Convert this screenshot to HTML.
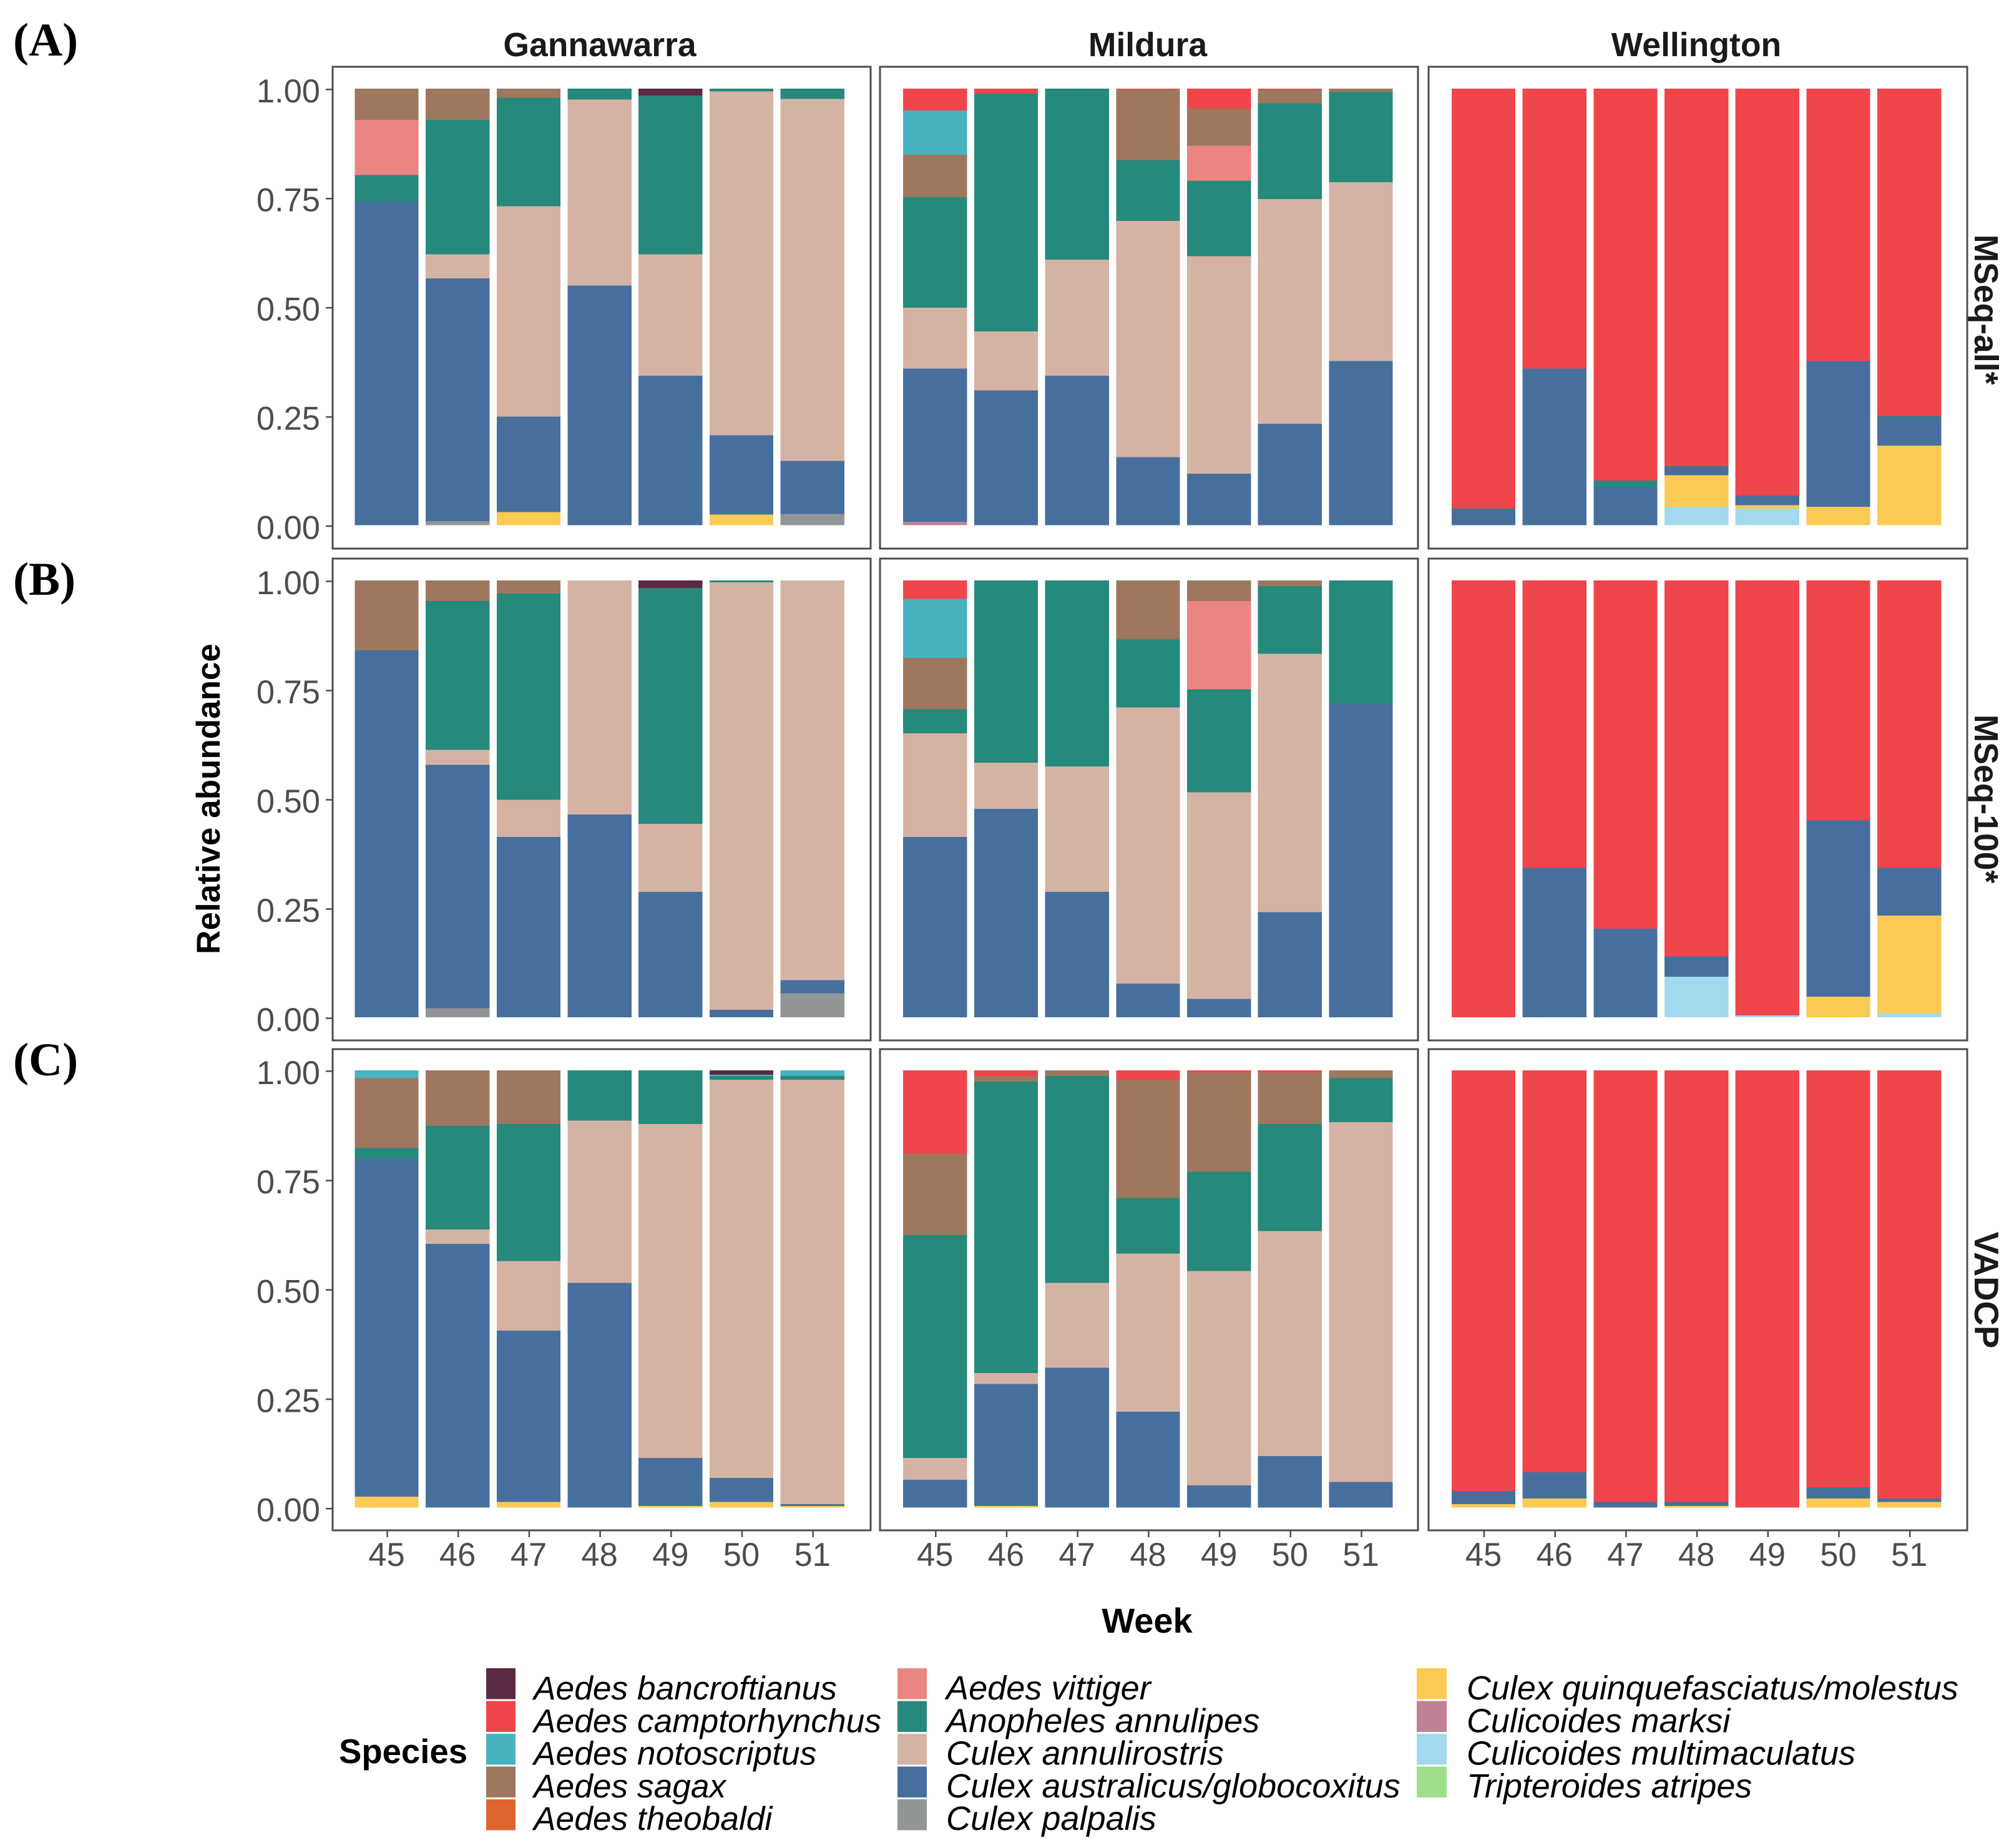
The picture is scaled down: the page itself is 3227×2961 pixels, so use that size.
<!DOCTYPE html>
<html lang="en">
<head>
<meta charset="utf-8">
<title>Relative abundance of species by week</title>
<style>
html,body{margin:0;padding:0;background:#fff;}
svg{display:block;}
text{font-family:"Liberation Sans",sans-serif;}
.strip{font-weight:bold;font-size:53.5px;fill:#1a1a1a;text-anchor:middle;}
.axis-title{font-weight:bold;font-size:53px;fill:#000;text-anchor:middle;}
.panel-tag{font-family:"Liberation Serif",serif;font-weight:bold;font-size:75px;fill:#000;}
.tick-label{font-size:52.5px;fill:#4d4d4d;}
.legend-label{font-style:italic;fill:#000;}
</style>
</head>
<body>
<svg id="chart" xmlns="http://www.w3.org/2000/svg" width="3227" height="2961" viewBox="0 0 3227 2961">
  <rect width="3227" height="2961" fill="#ffffff"/>
  <text class="panel-tag" x="21" y="89">(A)</text>
  <text class="panel-tag" x="21" y="953">(B)</text>
  <text class="panel-tag" x="21" y="1723">(C)</text>
  <text class="strip" x="961" y="90">Gannawarra</text>
  <text class="strip" x="1839" y="90">Mildura</text>
  <text class="strip" x="2718" y="90">Wellington</text>
  <text class="strip" transform="translate(3164 496) rotate(90)">MSeq-all*</text>
  <text class="strip" transform="translate(3164 1280) rotate(90)">MSeq-100*</text>
  <text class="strip" transform="translate(3164 2067) rotate(90)" style="font-size:54.5px">VADCP</text>
  <text class="axis-title" transform="translate(352 1280) rotate(-90)">Relative abundance</text>
  <text class="axis-title" x="1838" y="2616" style="font-size:56px">Week</text>
  <text class="axis-title" x="646" y="2825" style="font-size:54.5px">Species</text>
  <g id="panels"></g>
  <g id="legend"></g>
</svg>
<script>
const weeks = [45, 46, 47, 48, 49, 50, 51];
const yTicks = [0, 0.25, 0.5, 0.75, 1];
const yTickLabels = ['0.00', '0.25', '0.50', '0.75', '1.00'];
const speciesKeys = ['bancroftianus', 'camptorhynchus', 'notoscriptus', 'sagax', 'theobaldi', 'vittiger', 'annulipes', 'annulirostris', 'australicus', 'palpalis', 'quinquefasciatus', 'marksi', 'multimaculatus', 'atripes'];
const speciesNames = ['Aedes bancroftianus', 'Aedes camptorhynchus', 'Aedes notoscriptus', 'Aedes sagax', 'Aedes theobaldi', 'Aedes vittiger', 'Anopheles annulipes', 'Culex annulirostris', 'Culex australicus/globocoxitus', 'Culex palpalis', 'Culex quinquefasciatus/molestus', 'Culicoides marksi', 'Culicoides multimaculatus', 'Tripteroides atripes'];
const speciesColors = ['#5c2a42', '#ef454b', '#48b2be', '#9d775e', '#de6530', '#ea8581', '#25897b', '#d5b3a4', '#476f9e', '#929595', '#fbca54', '#bf8193', '#a2d9ee', '#9ee08a'];

const mseqAllGannawarra = {
  bancroftianus: [0, 0, 0, 0, 0.016, 0, 0],
  sagax: [0.072, 0.072, 0.021, 0, 0, 0, 0],
  vittiger: [0.126, 0, 0, 0, 0, 0, 0],
  annulipes: [0.060, 0.308, 0.249, 0.025, 0.364, 0.007, 0.024],
  annulirostris: [0, 0.055, 0.481, 0.426, 0.278, 0.787, 0.829],
  australicus: [0.742, 0.556, 0.219, 0.549, 0.342, 0.182, 0.121],
  palpalis: [0, 0.009, 0, 0, 0, 0, 0.026],
  quinquefasciatus: [0, 0, 0.030, 0, 0, 0.024, 0]
};
const mseqAllMildura = {
  camptorhynchus: [0.050, 0.012, 0, 0.002, 0.046, 0.002, 0],
  notoscriptus: [0.102, 0, 0, 0, 0, 0, 0],
  sagax: [0.097, 0, 0, 0.162, 0.085, 0.032, 0.008],
  vittiger: [0, 0, 0, 0, 0.080, 0, 0],
  annulipes: [0.253, 0.544, 0.392, 0.139, 0.173, 0.219, 0.207],
  annulirostris: [0.139, 0.135, 0.266, 0.541, 0.498, 0.515, 0.409],
  australicus: [0.351, 0.309, 0.342, 0.156, 0.118, 0.232, 0.376],
  marksi: [0.008, 0, 0, 0, 0, 0, 0]
};
const mseqAllWellington = {
  camptorhynchus: [0.962, 0.641, 0.898, 0.865, 0.932, 0.624, 0.750],
  annulipes: [0.002, 0, 0.014, 0, 0, 0, 0.002],
  australicus: [0.036, 0.359, 0.088, 0.021, 0.022, 0.334, 0.066],
  quinquefasciatus: [0, 0, 0, 0.072, 0.008, 0.042, 0.182],
  multimaculatus: [0, 0, 0, 0.042, 0.038, 0, 0]
};
const mseq100Gannawarra = {
  bancroftianus: [0, 0, 0, 0, 0.017, 0, 0],
  sagax: [0.160, 0.047, 0.030, 0, 0, 0, 0],
  annulipes: [0, 0.341, 0.472, 0, 0.540, 0.004, 0],
  annulirostris: [0, 0.034, 0.085, 0.536, 0.156, 0.979, 0.915],
  australicus: [0.840, 0.557, 0.413, 0.464, 0.287, 0.017, 0.030],
  palpalis: [0, 0.021, 0, 0, 0, 0, 0.055]
};
const mseq100Mildura = {
  camptorhynchus: [0.042, 0, 0, 0, 0, 0, 0],
  notoscriptus: [0.135, 0, 0, 0, 0, 0, 0],
  sagax: [0.118, 0, 0, 0.135, 0.047, 0.013, 0],
  vittiger: [0, 0, 0, 0, 0.202, 0, 0],
  annulipes: [0.055, 0.417, 0.426, 0.156, 0.236, 0.155, 0.282],
  annulirostris: [0.237, 0.106, 0.287, 0.632, 0.473, 0.591, 0],
  australicus: [0.413, 0.477, 0.287, 0.077, 0.042, 0.241, 0.718]
};
const mseq100Wellington = {
  camptorhynchus: [1, 0.658, 0.797, 0.861, 0.996, 0.549, 0.658],
  australicus: [0, 0.342, 0.203, 0.046, 0, 0.404, 0.109],
  quinquefasciatus: [0, 0, 0, 0, 0, 0.047, 0.224],
  multimaculatus: [0, 0, 0, 0.093, 0.004, 0, 0.009]
};
const vadcpGannawarra = {
  bancroftianus: [0, 0, 0, 0, 0, 0.010, 0],
  notoscriptus: [0.018, 0, 0, 0, 0, 0.003, 0.013],
  sagax: [0.160, 0.127, 0.123, 0, 0, 0, 0],
  annulipes: [0.025, 0.237, 0.313, 0.115, 0.123, 0.009, 0.009],
  annulirostris: [0, 0.033, 0.159, 0.371, 0.763, 0.910, 0.970],
  australicus: [0.772, 0.603, 0.392, 0.514, 0.110, 0.055, 0.004],
  quinquefasciatus: [0.025, 0, 0.013, 0, 0.004, 0.013, 0.004]
};
const vadcpMildura = {
  camptorhynchus: [0.191, 0.013, 0, 0.022, 0.005, 0.005, 0],
  sagax: [0.186, 0.013, 0.013, 0.270, 0.227, 0.118, 0.018],
  annulipes: [0.509, 0.666, 0.473, 0.127, 0.227, 0.245, 0.101],
  annulirostris: [0.050, 0.025, 0.194, 0.362, 0.490, 0.514, 0.822],
  australicus: [0.064, 0.279, 0.320, 0.219, 0.051, 0.118, 0.059],
  quinquefasciatus: [0, 0.004, 0, 0, 0, 0, 0]
};
const vadcpWellington = {
  camptorhynchus: [0.962, 0.919, 0.987, 0.987, 1, 0.953, 0.979],
  annulipes: [0, 0, 0, 0, 0, 0.004, 0],
  australicus: [0.030, 0.060, 0.013, 0.009, 0, 0.022, 0.008],
  quinquefasciatus: [0.008, 0.021, 0, 0.004, 0, 0.021, 0.013]
};

const panelValues = [
  [mseqAllGannawarra, mseqAllMildura, mseqAllWellington],
  [mseq100Gannawarra, mseq100Mildura, mseq100Wellington],
  [vadcpGannawarra, vadcpMildura, vadcpWellington]
];

const NS = 'http://www.w3.org/2000/svg';
const colFrames = [
  { left: 533, right: 1395, first: 619.5 },
  { left: 1410, right: 2272, first: 1498.3 },
  { left: 2289, right: 3152, first: 2377 }
];
const rowFrames = [
  { top: 107, bottom: 879, y1: 141.8, y0: 841.5 },
  { top: 895, bottom: 1667, y1: 930, y0: 1630 },
  { top: 1681, bottom: 2452, y1: 1714.8, y0: 2415.7 }
];
const pitch = 113.7;
const barWidth = 102.3;

function xScale(col, weekIndex) {
  return colFrames[col].first + weekIndex * pitch;
}
function yScale(row, value) {
  const f = rowFrames[row];
  return f.y0 - value * (f.y0 - f.y1);
}
function make(tag, parent, attrs) {
  const el = document.createElementNS(NS, tag);
  for (const k in attrs) el.setAttribute(k, attrs[k]);
  parent.appendChild(el);
  return el;
}

const panelsRoot = document.getElementById('panels');
panelValues.forEach(function (rowValues, row) {
  rowValues.forEach(function (values, col) {
    const c = colFrames[col];
    const r = rowFrames[row];
    const g = make('g', panelsRoot, {});
    
    

    weeks.forEach(function (week, i) {
      let base = 0;
      for (let s = speciesKeys.length - 1; s >= 0; s--) {
        const series = values[speciesKeys[s]];
        if (!series || !series[i]) continue;
        const yBottom = yScale(row, base);
        const yTop = yScale(row, base + series[i]);
        const bar = make('rect', g, {
          x: xScale(col, i) - barWidth / 2,
          y: yTop,
          width: barWidth,
          height: yBottom - yTop,
          fill: speciesColors[s],
          'shape-rendering': 'crispEdges'
        });
        
        
        base += series[i];
      }
    });

    const frame = make('rect', g, {
      x: c.left, y: r.top, width: c.right - c.left, height: r.bottom - r.top,
      fill: 'none', stroke: '#4d4d4d', 'stroke-width': 3
    });
    
    

    if (col === 0) {
      yTicks.forEach(function (v, t) {
        const y = yScale(row, v) + 1.5;
        const tick = make('line', g, { x1: c.left - 11, x2: c.left, y1: y, y2: y, stroke: '#4d4d4d', 'stroke-width': 2.5 });
        
        
        const label = make('text', g, { x: c.left - 20, y: y + 20.5, 'text-anchor': 'end', 'class': 'tick-label' });
        
        
        label.textContent = yTickLabels[t];
      });
    }
    if (row === 2) {
      weeks.forEach(function (week, i) {
        const x = xScale(col, i) + 1;
        const tick = make('line', g, { x1: x, x2: x, y1: r.bottom, y2: r.bottom + 11, stroke: '#4d4d4d', 'stroke-width': 2.5 });
        
        
        const label = make('text', g, { x: x - 1, y: 2509, 'text-anchor': 'middle', 'class': 'tick-label' });
        
        
        label.textContent = week;
      });
    }
  });
});

const legendRoot = document.getElementById('legend');
const legendSwatchX = [779, 1438, 2270];
const legendSwatchW = [47, 47, 48];
const legendLabelX = [855, 1516, 2350];
const legendFontSize = [53.3, 54.1, 53.9];
const legendRowsPerCol = [5, 5, 4];
const legendTop = 2673;
const legendStep = 52.5;
const legendBaseline = 2723;
let speciesIndex = 0;
legendRowsPerCol.forEach(function (count, col) {
  for (let i = 0; i < count; i++, speciesIndex++) {
    const entry = make('g', legendRoot, {});
    
    
    const swatch = make('rect', entry, {
      x: legendSwatchX[col],
      y: legendTop + i * legendStep,
      width: legendSwatchW[col],
      height: 49.5,
      fill: speciesColors[speciesIndex]
    });
    
    
    const label = make('text', entry, {
      x: legendLabelX[col],
      y: legendBaseline + i * 52.3,
      'class': 'legend-label',
      'font-size': legendFontSize[col]
    });
    
    
    label.textContent = speciesNames[speciesIndex];
  }
});
</script>
</body>
</html>
